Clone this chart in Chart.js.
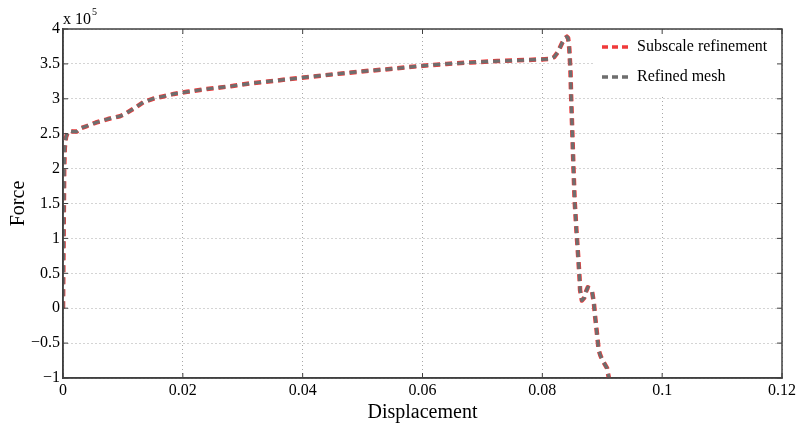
<!DOCTYPE html>
<html>
<head>
<meta charset="utf-8">
<script src="https://cdn.jsdelivr.net/npm/chart.js@4.4.1/dist/chart.umd.min.js"></script>
<style>
  html, body { margin: 0; padding: 0; background: #fff; }
  #wrap { width: 799px; height: 425px; }
</style>
</head>
<body>
<div id="wrap"><canvas id="c" width="799" height="425"></canvas></div>
<script>
// displacement (x) and force in units of 1e5 (y)
const displacement = [0, 0.0001, 0.0002, 0.0003, 0.0005, 0.0008, 0.0012, 0.0017, 0.0023, 0.0030,
  0.0040, 0.0055, 0.0075, 0.0095, 0.0105, 0.0118, 0.0134, 0.0150, 0.0165, 0.0185,
  0.0207, 0.024, 0.028, 0.0312, 0.0355, 0.0396, 0.045, 0.0496, 0.055, 0.0596,
  0.064, 0.068, 0.0725, 0.0774, 0.0813, 0.0820, 0.0826, 0.0833, 0.0838, 0.0841,
  0.0843, 0.0845, 0.0847, 0.0848, 0.0850, 0.0852, 0.0854, 0.0857, 0.0860, 0.0862,
  0.0863, 0.0866, 0.0870, 0.0873, 0.0876, 0.0880, 0.0883, 0.0886, 0.0888, 0.0890,
  0.0892, 0.0894, 0.0897, 0.0900, 0.0908, 0.0911];

const subscaleForce = [0, 1.0, 2.0, 2.3, 2.45, 2.52, 2.54, 2.53, 2.53, 2.58,
  2.61, 2.66, 2.71, 2.75, 2.79, 2.86, 2.95, 3.0, 3.03, 3.07,
  3.10, 3.14, 3.18, 3.22, 3.26, 3.30, 3.35, 3.39, 3.43, 3.47,
  3.50, 3.52, 3.54, 3.556, 3.57, 3.60, 3.67, 3.80, 3.87, 3.89,
  3.87, 3.72, 3.39, 3.05, 2.53, 2.0, 1.53, 1.1, 0.72, 0.45,
  0.26, 0.11, 0.15, 0.24, 0.30, 0.27, 0.24, 0.08, -0.11, -0.27,
  -0.43, -0.60, -0.68, -0.74, -0.86, -1.0];

const refinedForce = [0, 1.0, 2.0, 2.3, 2.45, 2.52, 2.54, 2.53, 2.53, 2.58,
  2.61, 2.66, 2.71, 2.75, 2.79, 2.86, 2.95, 3.0, 3.03, 3.07,
  3.10, 3.14, 3.18, 3.22, 3.26, 3.30, 3.35, 3.39, 3.43, 3.47,
  3.50, 3.52, 3.54, 3.556, 3.57, 3.60, 3.67, 3.80, 3.87, 3.89,
  3.87, 3.72, 3.39, 3.05, 2.53, 2.0, 1.53, 1.1, 0.72, 0.45,
  0.26, 0.11, 0.15, 0.24, 0.30, 0.27, 0.24, 0.08, -0.11, -0.27,
  -0.43, -0.60, -0.68, -0.74, -0.86, -0.99];

const xTicks = [0, 0.02, 0.04, 0.06, 0.08, 0.1, 0.12];
const yTicks = [-1, -0.5, 0, 0.5, 1, 1.5, 2, 2.5, 3, 3.5, 4];

const serif = '"Liberation Serif", "DejaVu Serif", serif';
const axisColor = '#404040';

function toPoints(xs, ys) {
  return xs.map((x, i) => ({ x: x, y: ys[i] }));
}

// frame, inward ticks, legend, exponent label
const matlabStyle = {
  id: 'matlabStyle',
  afterDatasetsDraw(chart) {
    const { ctx, chartArea: a, scales } = chart;
    ctx.save();

    // legend box (white, covers grid)
    const lx = 595, ly = a.top + 1;
    ctx.fillStyle = '#fff';
    ctx.fillRect(lx, ly, a.right - lx - 1, 65);
    chart.data.datasets.forEach((ds, i) => {
      const yy = 47 + i * 30;
      ctx.strokeStyle = ds.borderColor;
      ctx.lineWidth = 3.5;
      ctx.setLineDash([6, 4]);
      ctx.beginPath();
      ctx.moveTo(602, yy);
      ctx.lineTo(632, yy);
      ctx.stroke();
      ctx.setLineDash([]);
      ctx.fillStyle = '#000';
      ctx.font = '16px ' + serif;
      ctx.textBaseline = 'middle';
      ctx.textAlign = 'left';
      ctx.fillText(ds.label, 637, yy);
    });

    // frame
    ctx.strokeStyle = axisColor;
    ctx.lineWidth = 1.5;
    ctx.strokeRect(a.left, a.top, a.right - a.left, a.bottom - a.top);

    // inward ticks
    ctx.lineWidth = 1;
    const t = 5;
    xTicks.forEach(v => {
      const px = scales.x.getPixelForValue(v);
      ctx.beginPath();
      ctx.moveTo(px, a.bottom); ctx.lineTo(px, a.bottom - t);
      ctx.moveTo(px, a.top); ctx.lineTo(px, a.top + t);
      ctx.stroke();
    });
    yTicks.forEach(v => {
      const py = scales.y.getPixelForValue(v);
      ctx.beginPath();
      ctx.moveTo(a.left, py); ctx.lineTo(a.left + t, py);
      ctx.moveTo(a.right, py); ctx.lineTo(a.right - t, py);
      ctx.stroke();
    });

    // x 10^5
    ctx.fillStyle = '#000';
    ctx.textAlign = 'left';
    ctx.textBaseline = 'alphabetic';
    ctx.font = '16px ' + serif;
    ctx.fillText('x 10', 63, 24);
    ctx.font = '10px ' + serif;
    ctx.fillText('5', 92, 15);

    ctx.restore();
  }
};

new Chart(document.getElementById('c'), {
  type: 'scatter',
  data: {
    datasets: [
      {
        label: 'Subscale refinement',
        data: toPoints(displacement, subscaleForce),
        borderColor: '#f03a3a',
        borderWidth: 4.5,
        borderDash: [7, 5],
        borderJoinStyle: 'round',
        showLine: true,
        pointRadius: 0,
        tension: 0,
        order: 2,
      },
      {
        label: 'Refined mesh',
        data: toPoints(displacement, refinedForce),
        borderColor: '#6e6e6e',
        borderWidth: 3.2,
        borderDash: [7, 5],
        borderJoinStyle: 'round',
        showLine: true,
        pointRadius: 0,
        tension: 0,
        order: 1,
      }
    ]
  },
  options: {
    responsive: false,
    animation: false,
    layout: { padding: { left: 0, top: 29, right: 17, bottom: 0 } },
    plugins: {
      legend: { display: false },
      tooltip: { enabled: false },
    },
    scales: {
      x: {
        type: 'linear',
        min: 0,
        max: 0.12,
        afterBuildTicks: s => { s.ticks = xTicks.map(v => ({ value: v })); },
        afterFit: s => { s.height = 47; },
        ticks: {
          color: '#000',
          font: { family: serif, size: 16 },
          padding: 3,
          maxRotation: 0,
          callback: v => String(Number(v.toFixed(2))),
        },
        grid: { color: '#a8a8a8', lineWidth: 1, drawTicks: false },
        border: { display: true, color: axisColor, width: 1.5, dash: [1, 3] },
        title: {
          display: true,
          text: 'Displacement',
          color: '#000',
          font: { family: serif, size: 20 },
          padding: { top: 1, bottom: 0 },
        },
      },
      y: {
        type: 'linear',
        min: -1,
        max: 4,
        afterBuildTicks: s => { s.ticks = yTicks.map(v => ({ value: v })); },
        afterFit: s => { s.width = 63; },
        ticks: {
          color: '#000',
          font: { family: serif, size: 16 },
          padding: 3,
          callback: v => String(v).replace('-', '\u2212'),
        },
        grid: { color: '#a8a8a8', lineWidth: 1, drawTicks: false },
        border: { display: true, color: axisColor, width: 1.5, dash: [1, 3] },
        title: {
          display: true,
          text: 'Force',
          color: '#000',
          font: { family: serif, size: 20 },
          padding: { top: 7, bottom: 0 },
        },
      }
    }
  },
  plugins: [matlabStyle]
});
</script>
</body>
</html>
